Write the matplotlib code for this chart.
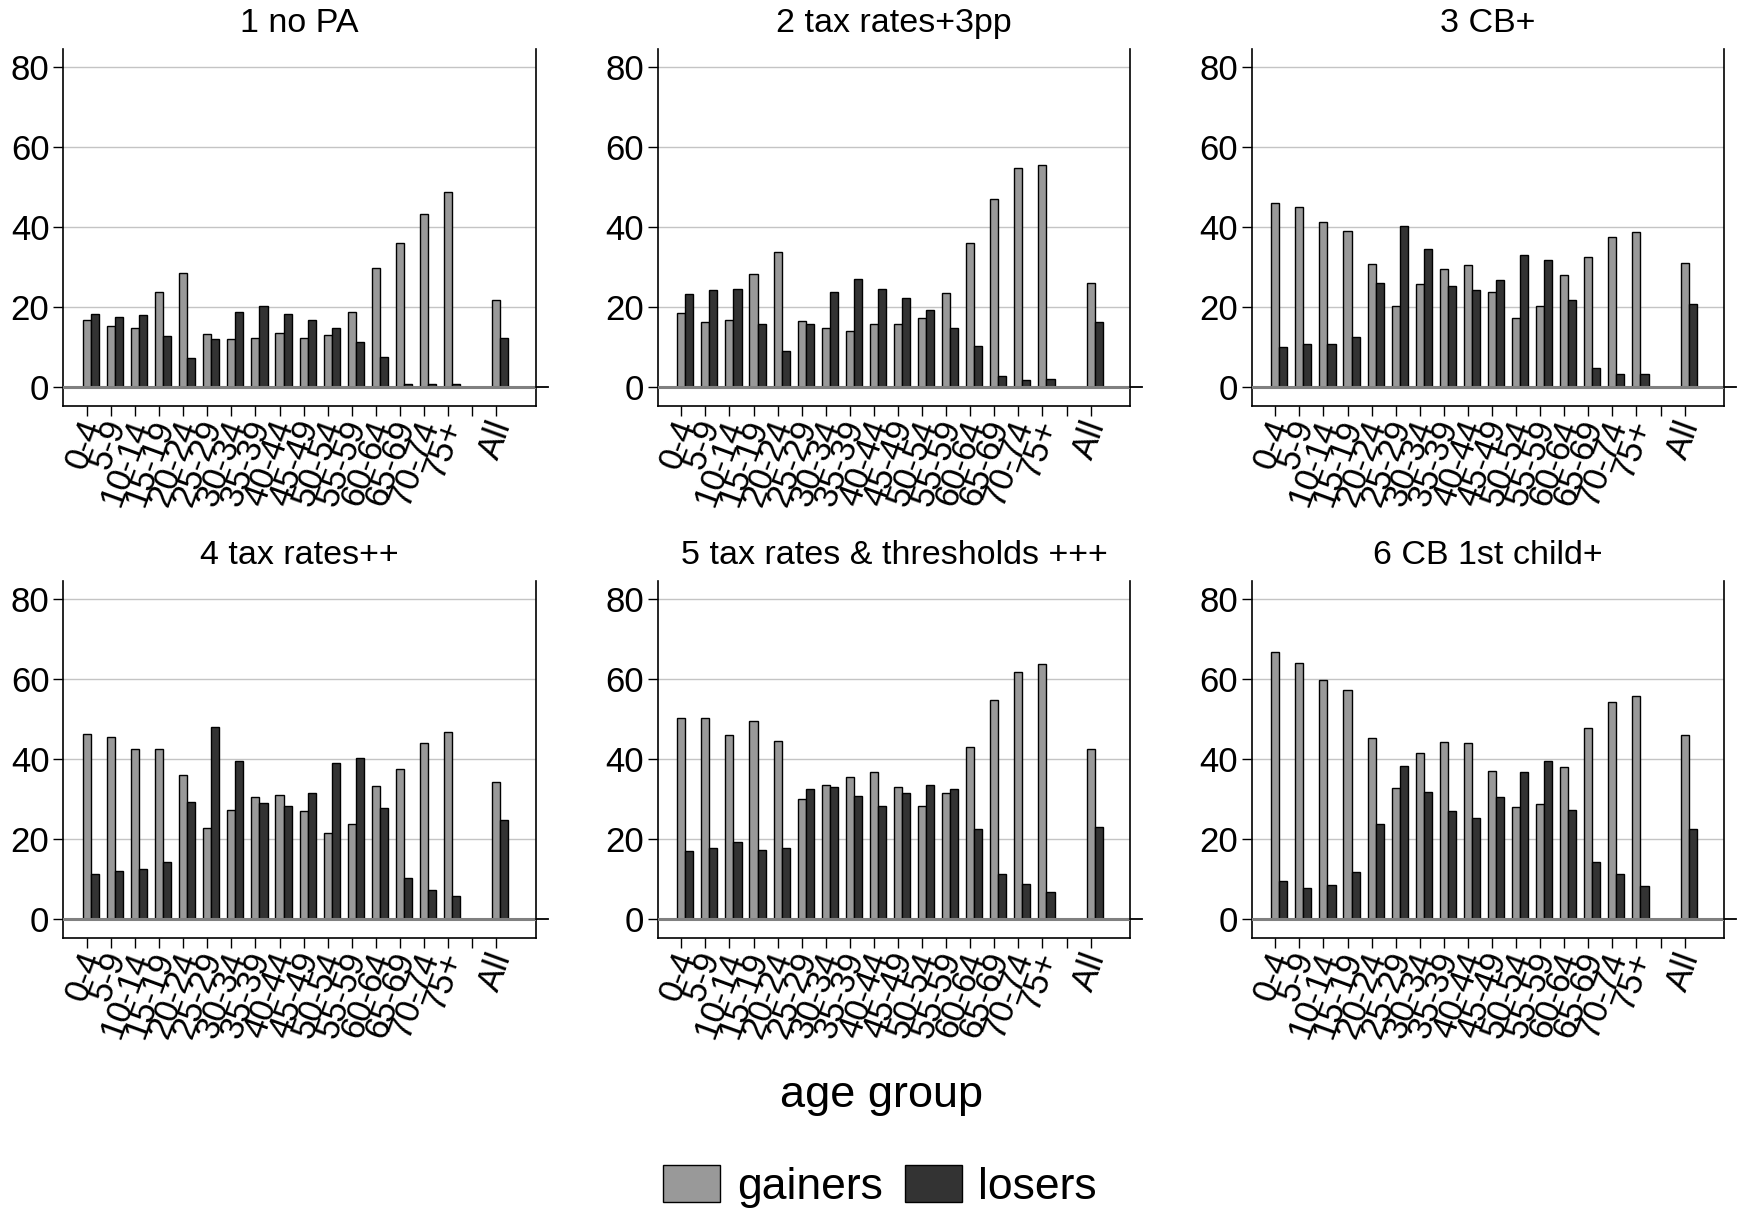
import matplotlib
matplotlib.use("Agg")
import matplotlib.pyplot as plt
from matplotlib.transforms import blended_transform_factory, ScaledTranslation

plt.rcParams["font.family"] = ["Liberation Sans", "DejaVu Sans"]

# ── data (% of individuals in each age group) ─────────────────────────────
AGE_GROUPS = ["0-4", "5-9", "10-14", "15-19", "20-24", "25-29", "30-34", "35-39",
              "40-44", "45-49", "50-54", "55-59", "60-64", "65-69", "70-74", "75+"]
TOTAL_LABEL = "All"

TITLES = ["1 no PA", "2 tax rates+3pp", "3 CB+",
          "4 tax rates++", "5 tax rates & thresholds +++", "6 CB 1st child+"]

# last value of each list = "All"
GAINERS_1 = [16.8, 15.2, 14.7, 23.7, 28.5, 13.3, 12.0, 12.2, 13.5, 12.2, 13.0, 18.7, 29.7, 35.9, 43.2, 48.7, 21.6]
LOSERS_1 = [18.2, 17.5, 18.0, 12.6, 7.1, 12.0, 18.7, 20.1, 18.1, 16.8, 14.7, 11.1, 7.5, 0.8, 0.6, 0.6, 12.3]

GAINERS_2 = [18.5, 16.2, 16.7, 28.2, 33.7, 16.5, 14.7, 13.9, 15.7, 15.7, 17.3, 23.5, 35.9, 47.0, 54.9, 55.5, 26.0]
LOSERS_2 = [23.3, 24.3, 24.6, 15.7, 8.9, 15.7, 23.6, 27.1, 24.6, 22.1, 19.1, 14.8, 10.1, 2.7, 1.7, 1.9, 16.3]

GAINERS_3 = [46.0, 45.0, 41.2, 39.0, 30.7, 20.3, 25.7, 29.6, 30.6, 23.7, 17.1, 20.3, 28.1, 32.5, 37.6, 38.7, 31.1]
LOSERS_3 = [10.0, 10.8, 10.8, 12.5, 26.0, 40.2, 34.6, 25.3, 24.3, 26.7, 33.1, 31.8, 21.6, 4.6, 3.3, 3.3, 20.6]

GAINERS_4 = [46.2, 45.5, 42.6, 42.4, 36.0, 22.8, 27.3, 30.5, 31.1, 27.1, 21.5, 23.6, 33.2, 37.6, 44.1, 46.8, 34.3]
LOSERS_4 = [11.3, 12.0, 12.5, 14.3, 29.3, 47.9, 39.5, 28.9, 28.3, 31.5, 39.0, 40.2, 27.8, 10.3, 7.1, 5.7, 24.8]

GAINERS_5 = [50.3, 50.2, 46.1, 49.5, 44.4, 30.0, 33.5, 35.4, 36.7, 32.9, 28.2, 31.6, 43.0, 54.7, 61.7, 63.8, 42.6]
LOSERS_5 = [17.0, 17.6, 19.1, 17.3, 17.8, 32.5, 33.0, 30.8, 28.3, 31.6, 33.5, 32.5, 22.5, 11.3, 8.6, 6.6, 23.0]

GAINERS_6 = [66.7, 64.1, 59.7, 57.3, 45.2, 32.7, 41.4, 44.2, 44.1, 36.9, 28.1, 28.8, 38.0, 47.7, 54.4, 55.7, 46.0]
LOSERS_6 = [9.5, 7.8, 8.4, 11.8, 23.8, 38.3, 31.8, 26.9, 25.3, 30.5, 36.7, 39.5, 27.3, 14.3, 11.1, 8.1, 22.5]

GAINERS = [GAINERS_1, GAINERS_2, GAINERS_3, GAINERS_4, GAINERS_5, GAINERS_6]
LOSERS = [LOSERS_1, LOSERS_2, LOSERS_3, LOSERS_4, LOSERS_5, LOSERS_6]

# ── style ──────────────────────────────────────────────────────────────────
GAIN_C = "#999999"
LOSE_C = "#333333"
W, H = 1738, 1208
BAR_W = 0.335

# one empty slot between the last age group and "All"
xpos = list(range(len(AGE_GROUPS))) + [len(AGE_GROUPS) + 1]
ticks = list(range(len(AGE_GROUPS) + 2))
ticklabels = AGE_GROUPS + ["", TOTAL_LABEL]

fig = plt.figure(figsize=(W / 100, H / 100), dpi=100)

lefts = [63.3, 657.7, 1251.7]
tops = [49, 581]
ax_w, ax_h = 472.4, 356.7
label_shift = ScaledTranslation(4 / 72, 0, fig.dpi_scale_trans)

handles = None
for k in range(6):
    r, c = divmod(k, 3)
    ax = fig.add_axes([lefts[c] / W, 1 - (tops[r] + ax_h) / H, ax_w / W, ax_h / H])

    for y in (20, 40, 60, 80):
        ax.axhline(y, color="#c4c4c4", lw=1.0, zorder=0)

    bg = ax.bar(xpos, GAINERS[k], width=BAR_W, color=GAIN_C,
                edgecolor="black", linewidth=1.0, zorder=2, label="gainers")
    bl = ax.bar([x + BAR_W for x in xpos], LOSERS[k], width=BAR_W, color=LOSE_C,
                edgecolor="black", linewidth=1.0, zorder=2, label="losers")
    handles = [bg, bl]

    ax.axhline(0, color="#808080", lw=2.2, zorder=3)
    tr = blended_transform_factory(ax.transAxes, ax.transData)
    ax.plot([1.0, 1.026], [0, 0], color="black", lw=1.3, transform=tr,
            clip_on=False, zorder=3)

    ax.set_xlim(-0.98, 18.64)
    ax.set_ylim(-4.76, 84.6)
    ax.set_yticks([0, 20, 40, 60, 80])
    ax.set_xticks(ticks)
    ax.tick_params(axis="both", direction="out", length=7, width=1.0,
                   labelsize=25, color="black")
    ax.tick_params(axis="y", pad=3)
    ax.tick_params(axis="x", pad=4)
    ax.set_xticklabels(ticklabels, rotation=70, ha="right", va="center",
                       rotation_mode="anchor")
    for lbl in ax.get_xticklabels():
        lbl.set_transform(lbl.get_transform() + label_shift)

    ax.spines["top"].set_visible(False)
    for s in ("left", "bottom", "right"):
        ax.spines[s].set_linewidth(1.2)
        ax.spines[s].set_color("black")

    ax.set_title(TITLES[k], fontsize=24.5, pad=12)

fig.text(882 / W, 1 - 1106.7 / H, "age group", ha="center", va="baseline",
         fontsize=32.5)

fig.legend(handles, ["gainers", "losers"], loc="lower center",
           bbox_to_anchor=(880 / W, 0.0), ncol=2, frameon=False,
           fontsize=32, handlelength=1.28, handleheight=0.9,
           handletextpad=0.37, columnspacing=0.5, borderpad=0,
           borderaxespad=0)

fig.savefig("out.png", dpi=100)
plt.close(fig)
